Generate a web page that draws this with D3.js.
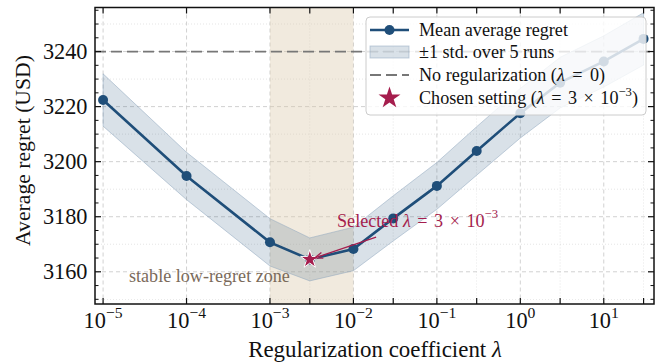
<!DOCTYPE html>
<html><head><meta charset="utf-8">
<script src="https://cdn.jsdelivr.net/npm/d3@7"></script>
<style>
body{margin:0;background:#fff}
svg{display:block}
text{font-family:"Liberation Serif","Times New Roman",serif;fill:#111}
</style>
</head><body>
<svg id="c" width="659" height="362"></svg>
<script>
// ---- data ----
const lambdas = [1e-5, 1e-4, 1e-3, 3e-3, 1e-2, 3e-2, 1e-1, 3e-1, 1, 3, 10, 30];
const meanRegret = [3222.4, 3194.8, 3170.7, 3164.5, 3168.3, 3179.4, 3191.2, 3203.9, 3217.6, 3228.7, 3236.4, 3244.6];
const stdRegret = [9.5, 8.6, 8.6, 7.8, 7.9, 8.2, 8.5, 8.8, 9.0, 9.2, 9.3, 9.5];
const baselineRegret = 3240;
const chosenLambda = 3e-3;
const chosenRegret = 3164.5;
const zoneRange = [1e-3, 1e-2];
const xMajorTicks = [1e-5, 1e-4, 1e-3, 1e-2, 1e-1, 1, 10];
const xTickExponents = ["\u22125", "\u22124", "\u22123", "\u22122", "\u22121", "0", "1"];
const xDataTicks = lambdas;
const yMajorTicks = [3160, 3180, 3200, 3220, 3240];
const yMinorTicks = d3.range(3150, 3256, 5);

const colMain = "#1f4e79", colStar = "#a51d4d", colZone = "#d9c8a9", colZoneText = "#7a6a5a", colRef = "#777777";

// ---- rich text helper ----
function richText(parent, attrs, parts, target, opts = {}) {
  const build = (fs, g) => {
    const el = parent.append("text");
    Object.entries(attrs).forEach(([k, v]) => el.attr(k, v));
    el.style("font-size", fs + "px");
    if (opts.fill) el.style("fill", opts.fill);
    let lifted = false, pend = 0;
    parts.forEach(p => {
      if (p.gap) { pend += g; return; }
      const ts = el.append("tspan").text(p.t);
      if (pend) { ts.attr("dx", pend); pend = 0; }
      if (p.it) ts.style("font-style", "italic");
      if (p.sup) {
        ts.style("font-size", (0.7 * fs) + "px");
        if (!lifted) { ts.attr("dy", -0.45 * fs); lifted = true; }
      } else if (lifted) { ts.attr("dy", 0.45 * fs); lifted = false; }
    });
    return el;
  };
  let fs = opts.size || 20;
  const nGaps = parts.filter(p => p.gap).length;
  let g = opts.gap || 0;
  let el = build(fs, opts.fitGap ? 0 : g);
  if (target) {
    const w = el.node().getBBox().width;
    el.remove();
    if (opts.fitGap && nGaps) { g = Math.max(1, (target - w) / nGaps); }
    else { fs = fs * target / w; }
    el = build(fs, g);
  }
  return {el, fs, g};
}

// ---- layout ----
const L = 95, R = 654, T = 7.5, B = 304;
const svg = d3.select("#c");
const x = d3.scaleLog().domain([8e-6, 40]).range([L, R]);
const y = d3.scaleLinear().domain([3148.3, 3256]).range([B, T]);

svg.append("defs").append("clipPath").attr("id", "clip")
  .append("rect").attr("x", L).attr("y", T).attr("width", R - L).attr("height", B - T);

const plot = svg.append("g").attr("clip-path", "url(#clip)");

// minor grid
plot.append("g").selectAll("line").data(yMinorTicks.filter(v => v % 10 === 0 && v % 20 !== 0)).join("line")
  .attr("x1", L).attr("x2", R).attr("y1", d => y(d)).attr("y2", d => y(d))
  .attr("stroke", "#bbb").attr("stroke-width", 0.6).attr("stroke-dasharray", "1,2").attr("opacity", 0.6);
plot.append("g").selectAll("line").data(xDataTicks.filter(v => !xMajorTicks.includes(v))).join("line")
  .attr("y1", T).attr("y2", B).attr("x1", d => x(d)).attr("x2", d => x(d))
  .attr("stroke", "#bbb").attr("stroke-width", 0.6).attr("stroke-dasharray", "1,2").attr("opacity", 0.6);
// major grid
plot.append("g").selectAll("line").data(yMajorTicks).join("line")
  .attr("x1", L).attr("x2", R).attr("y1", d => y(d)).attr("y2", d => y(d))
  .attr("stroke", "#ccc").attr("stroke-width", 0.9).attr("stroke-dasharray", "4,3");
plot.append("g").selectAll("line").data(xMajorTicks).join("line")
  .attr("y1", T).attr("y2", B).attr("x1", d => x(d)).attr("x2", d => x(d))
  .attr("stroke", "#ccc").attr("stroke-width", 0.9).attr("stroke-dasharray", "4,3");

// stable zone
plot.append("rect").attr("x", x(zoneRange[0])).attr("width", x(zoneRange[1]) - x(zoneRange[0]))
  .attr("y", T).attr("height", B - T).attr("fill", colZone).attr("opacity", 0.38);

// reference line
plot.append("line").attr("x1", L).attr("x2", R).attr("y1", y(baselineRegret)).attr("y2", y(baselineRegret))
  .attr("stroke", colRef).attr("stroke-width", 1.8).attr("stroke-dasharray", "11,5");

// band
const pts = lambdas.map((l, i) => ({l, m: meanRegret[i], s: stdRegret[i]}));
plot.append("path").datum(pts)
  .attr("d", d3.area().x(d => x(d.l)).y0(d => y(d.m - d.s)).y1(d => y(d.m + d.s)))
  .attr("fill", colMain).attr("fill-opacity", 0.17)
  .attr("stroke", "#8ea6be").attr("stroke-opacity", 0.5).attr("stroke-width", 1);

// mean line
plot.append("path").datum(pts)
  .attr("d", d3.line().x(d => x(d.l)).y(d => y(d.m)))
  .attr("fill", "none").attr("stroke", colMain).attr("stroke-width", 2.6);
plot.append("g").selectAll("circle").data(pts).join("circle")
  .attr("cx", d => x(d.l)).attr("cy", d => y(d.m)).attr("r", 5).attr("fill", colMain);

// zone text
richText(plot, {x: 129, y: y(3156.4)}, [{t: "stable low-regret zone"}], 161, {fill: colZoneText, size: 18});

// star
plot.append("path").attr("d", d3.symbol(d3.symbolStar).size(105)())
  .attr("transform", `translate(${x(chosenLambda)},${y(chosenRegret)})`)
  .attr("fill", colStar).attr("stroke", "#fff").attr("stroke-width", 1);

// annotation arrow
const ax0 = x(0.0187), ay0 = y(3172.6);
const ax1 = x(chosenLambda) + 5, ay1 = y(chosenRegret) - 1.5;
plot.append("line").attr("x1", ax0).attr("y1", ay0).attr("x2", ax1).attr("y2", ay1)
  .attr("stroke", colStar).attr("stroke-width", 1.3);
{
  const ang = Math.atan2(ay1 - ay0, ax1 - ax0);
  const hl = 8, hw = 3;
  const bx = ax1 - hl * Math.cos(ang), by = ay1 - hl * Math.sin(ang);
  const nx = -Math.sin(ang), ny = Math.cos(ang);
  plot.append("path")
    .attr("d", `M${bx + nx * hw},${by + ny * hw}L${ax1},${ay1}L${bx - nx * hw},${by - ny * hw}`)
    .attr("fill", "none").attr("stroke", colStar).attr("stroke-width", 1.3);
}

// spines
svg.append("rect").attr("x", L).attr("y", T).attr("width", R - L).attr("height", B - T)
  .attr("fill", "none").attr("stroke", "#111").attr("stroke-width", 1.5);

// ticks (inward, all sides)
const tk = svg.append("g").attr("stroke", "#111").attr("stroke-width", 1.2);
xDataTicks.forEach(v => {
  tk.append("line").attr("x1", x(v)).attr("x2", x(v)).attr("y1", B).attr("y2", B - 6);
  tk.append("line").attr("x1", x(v)).attr("x2", x(v)).attr("y1", T).attr("y2", T + 6);
});
yMajorTicks.forEach(v => {
  tk.append("line").attr("x1", L).attr("x2", L + 6).attr("y1", y(v)).attr("y2", y(v));
  tk.append("line").attr("x1", R).attr("x2", R - 6).attr("y1", y(v)).attr("y2", y(v));
});
yMinorTicks.filter(v => v % 20 !== 0).forEach(v => {
  tk.append("line").attr("x1", L).attr("x2", L + 3.5).attr("y1", y(v)).attr("y2", y(v)).attr("stroke-width", 1);
  tk.append("line").attr("x1", R).attr("x2", R - 3.5).attr("y1", y(v)).attr("y2", y(v)).attr("stroke-width", 1);
});

// y tick labels
const yLab = svg.append("g");
const probe = richText(yLab, {x: 0, y: 0}, [{t: "3240"}], 44.6, {size: 20});
const yfs = probe.fs; probe.el.remove();
yMajorTicks.forEach(v => {
  richText(yLab, {x: 87.5, y: y(v) + 0.34 * yfs, "text-anchor": "end"}, [{t: String(v)}], null, {size: yfs});
});
// x tick labels
const xLab = svg.append("g");
const probe2 = richText(xLab, {x: 0, y: 0}, [{t: "10"}, {t: "\u22125", sup: true}], 39, {size: 20});
const xfs = probe2.fs; probe2.el.remove();
xMajorTicks.forEach((v, i) => {
  richText(xLab, {x: x(v), y: 328, "text-anchor": "middle"}, [{t: "10"}, {t: xTickExponents[i], sup: true}], null, {size: xfs});
});

// axis labels
richText(svg, {transform: `translate(30,150.5) rotate(-90)`, "text-anchor": "middle"}, [{t: "Average regret (USD)"}], 191, {size: 22});
richText(svg, {x: 375, y: 357, "text-anchor": "middle"},
  [{t: "Regularization coefficient "}, {t: "\u03bb", it: true}], 254, {size: 22});

// legend
const lg = svg.append("g");
lg.append("rect").attr("x", 366).attr("y", 17).attr("width", 280).attr("height", 98).attr("rx", 4)
  .attr("fill", "#fff").attr("fill-opacity", 0.8).attr("stroke", "#ccc").attr("stroke-width", 1);
const hx0 = 370, hx1 = 409, hxm = (hx0 + hx1) / 2, tx = 419;
const rows = [30, 52, 75, 98];
lg.append("line").attr("x1", hx0).attr("x2", hx1).attr("y1", rows[0]).attr("y2", rows[0]).attr("stroke", colMain).attr("stroke-width", 2.6);
lg.append("circle").attr("cx", hxm).attr("cy", rows[0]).attr("r", 5).attr("fill", colMain);
lg.append("rect").attr("x", hx0).attr("y", rows[1] - 6).attr("width", hx1 - hx0).attr("height", 12)
  .attr("fill", colMain).attr("fill-opacity", 0.17).attr("stroke", "#8ea6be").attr("stroke-opacity", 0.5);
lg.append("line").attr("x1", hx0).attr("x2", hx1).attr("y1", rows[2]).attr("y2", rows[2]).attr("stroke", colRef)
  .attr("stroke-width", 1.8).attr("stroke-dasharray", "11,5");
lg.append("path").attr("d", d3.symbol(d3.symbolStar).size(150)()).attr("transform", `translate(${hxm},${rows[3]})`).attr("fill", colStar);

const lp = richText(lg, {x: 0, y: 0}, [{t: "Mean average regret"}], 149, {size: 18});
const lfs = lp.fs; lp.el.remove();
const legendTexts = [
  [{t: "Mean average regret"}],
  [{t: "\u00b11 std. over 5 runs"}],
  [{t: "No regularization ("}, {t: "\u03bb", it: true}, {gap: true}, {t: "="}, {gap: true}, {t: "0)"}],
  [{t: "Chosen setting ("}, {t: "\u03bb", it: true}, {gap: true}, {t: "="}, {gap: true}, {t: "3"}, {gap: true}, {t: "\u00d7"}, {gap: true}, {t: "10"}, {t: "\u22123", sup: true}, {t: ")"}]
];
const legendTargets = [null, null, 186, 219];
legendTexts.forEach((parts, i) => {
  richText(lg, {x: tx, y: rows[i] + 0.33 * lfs}, parts, legendTargets[i], {size: lfs, fitGap: true});
});

// annotation text
richText(svg, {x: 337, y: y(3176.4)},
  [{t: "Selected "}, {t: "\u03bb", it: true}, {gap: true}, {t: "="}, {gap: true}, {t: "3"}, {gap: true}, {t: "\u00d7"}, {gap: true}, {t: "10"}, {t: "\u22123", sup: true}],
  161, {fill: colStar, size: lfs, fitGap: true});
</script>
</body></html>
